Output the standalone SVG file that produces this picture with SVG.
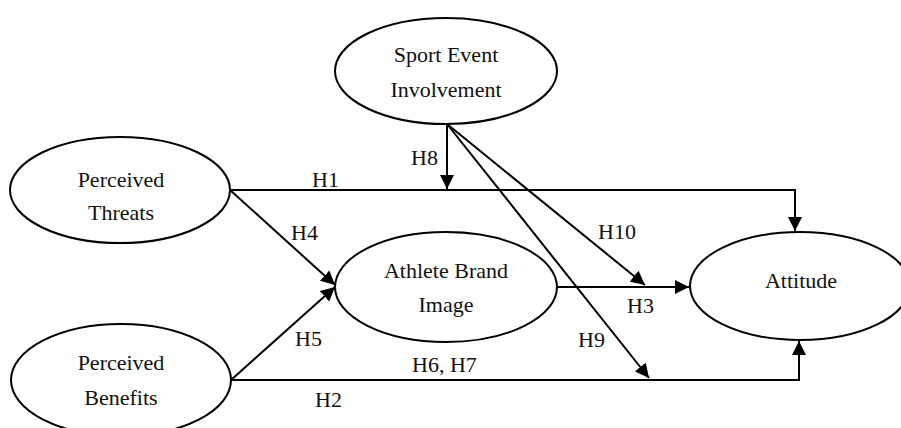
<svg xmlns="http://www.w3.org/2000/svg" width="901" height="428" viewBox="0 0 901 428">
<style>
.node ellipse{fill:#fff;stroke:#000;stroke-width:2}
text{font-family:"Liberation Serif","Times New Roman",serif;font-size:22px;fill:#111}
.nt{text-anchor:middle}
.conn path{fill:none;stroke:#000;stroke-width:2}
</style>
<defs>
<marker id="arr" markerUnits="userSpaceOnUse" markerWidth="16" markerHeight="14" refX="14" refY="7" orient="auto">
<path d="M0,0 L14,7 L0,14 Z" fill="#000"/>
</marker>
</defs>
<rect width="901" height="428" fill="#fff"/>
<g class="conn" id="connectors">
<path d="M230,190 H795 V231" marker-end="url(#arr)"/>
<path d="M231,380 H799 V341" marker-end="url(#arr)"/>
<path d="M557,287 H689" marker-end="url(#arr)"/>
<path d="M230,190 L335,285" marker-end="url(#arr)"/>
<path d="M231,380 L335,287" marker-end="url(#arr)"/>
<path d="M447,124 V189" marker-end="url(#arr)"/>
<path d="M447,124 L649,378" marker-end="url(#arr)"/>
<path d="M447,124 L645,285" marker-end="url(#arr)"/>
</g>
<g id="sport" class="node">
<ellipse cx="446" cy="71" rx="111" ry="53"/>
<text class="nt" x="446" y="62">Sport Event</text>
<text class="nt" x="446" y="97">Involvement</text>
</g>
<g id="threats" class="node">
<ellipse cx="120" cy="190" rx="110" ry="53"/>
<text class="nt" x="121" y="187">Perceived</text>
<text class="nt" x="121" y="220">Threats</text>
</g>
<g id="athlete" class="node">
<ellipse cx="446" cy="287" rx="111" ry="55"/>
<text class="nt" x="446" y="278">Athlete Brand</text>
<text class="nt" x="446" y="312">Image</text>
</g>
<g id="attitude" class="node">
<ellipse cx="800" cy="286" rx="110" ry="54"/>
<text class="nt" x="801" y="288">Attitude</text>
</g>
<g id="benefits" class="node">
<ellipse cx="121" cy="380" rx="110" ry="56"/>
<text class="nt" x="121" y="370">Perceived</text>
<text class="nt" x="121" y="405">Benefits</text>
</g>
<g id="labels">
<text x="411" y="165">H8</text>
<text x="312" y="187">H1</text>
<text x="291" y="240">H4</text>
<text x="598" y="239">H10</text>
<text x="627" y="313">H3</text>
<text x="295" y="346">H5</text>
<text x="412" y="372">H6, H7</text>
<text x="578" y="347">H9</text>
<text x="315" y="407">H2</text>
</g>
</svg>
